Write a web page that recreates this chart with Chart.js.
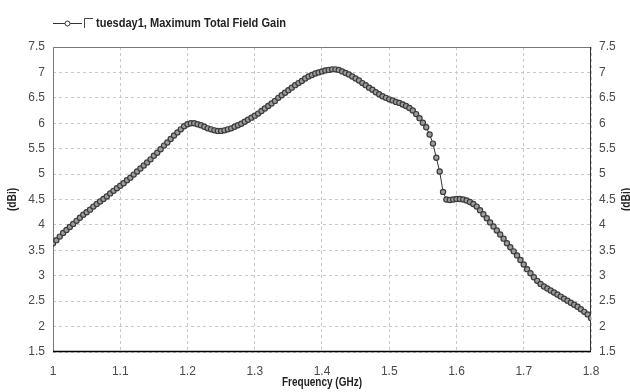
<!DOCTYPE html>
<html>
<head>
<meta charset="utf-8">
<script src="https://cdn.jsdelivr.net/npm/chart.js@4.4.1/dist/chart.umd.min.js"></script>
<style>
  html, body { margin: 0; padding: 0; background: #fff; }
  #wrap { width: 630px; height: 392px; }
</style>
</head>
<body>
<div id="wrap"><canvas id="chart" width="630" height="392"></canvas></div>
<script>
const seriesName = 'tuesday1, Maximum Total Field Gain';
const xTitle = 'Frequency (GHz)';
const yTitle = '(dBi)';

const freqs = [
  1.000, 1.005, 1.010, 1.015, 1.020, 1.025, 1.030, 1.035, 1.040, 1.045,
  1.050, 1.055, 1.060, 1.065, 1.070, 1.075, 1.080, 1.085, 1.090, 1.095,
  1.100, 1.105, 1.110, 1.115, 1.120, 1.125, 1.130, 1.135, 1.140, 1.145,
  1.150, 1.155, 1.160, 1.165, 1.170, 1.175, 1.180, 1.185, 1.190, 1.195,
  1.200, 1.205, 1.210, 1.215, 1.220, 1.225, 1.230, 1.235, 1.240, 1.245,
  1.250, 1.255, 1.260, 1.265, 1.270, 1.275, 1.280, 1.285, 1.290, 1.295,
  1.300, 1.305, 1.310, 1.315, 1.320, 1.325, 1.330, 1.335, 1.340, 1.345,
  1.350, 1.355, 1.360, 1.365, 1.370, 1.375, 1.380, 1.385, 1.390, 1.395,
  1.400, 1.405, 1.410, 1.415, 1.420, 1.425, 1.430, 1.435, 1.440, 1.445,
  1.450, 1.455, 1.460, 1.465, 1.470, 1.475, 1.480, 1.485, 1.490, 1.495,
  1.500, 1.505, 1.510, 1.515, 1.520, 1.525, 1.530, 1.535, 1.540, 1.545,
  1.550, 1.555, 1.560, 1.565, 1.570, 1.575, 1.580, 1.585, 1.590, 1.595,
  1.600, 1.605, 1.610, 1.615, 1.620, 1.625, 1.630, 1.635, 1.640, 1.645,
  1.650, 1.655, 1.660, 1.665, 1.670, 1.675, 1.680, 1.685, 1.690, 1.695,
  1.700, 1.705, 1.710, 1.715, 1.720, 1.725, 1.730, 1.735, 1.740, 1.745,
  1.750, 1.755, 1.760, 1.765, 1.770, 1.775, 1.780, 1.785, 1.790, 1.795,
  1.800
];

const gain = [
  3.64, 3.70, 3.77, 3.84, 3.90, 3.96, 4.02, 4.08, 4.14, 4.20,
  4.25, 4.30, 4.36, 4.41, 4.46, 4.51, 4.56, 4.62, 4.67, 4.72,
  4.77, 4.82, 4.88, 4.93, 4.99, 5.05, 5.11, 5.17, 5.23, 5.29,
  5.36, 5.42, 5.49, 5.56, 5.62, 5.69, 5.76, 5.82, 5.88, 5.94,
  5.98, 6.00, 6.00, 5.98, 5.96, 5.93, 5.90, 5.88, 5.86, 5.85,
  5.85, 5.86, 5.88, 5.90, 5.93, 5.96, 5.99, 6.03, 6.07, 6.11,
  6.15, 6.19, 6.24, 6.29, 6.34, 6.39, 6.44, 6.50, 6.55, 6.60,
  6.65, 6.70, 6.75, 6.79, 6.83, 6.88, 6.92, 6.95, 6.98, 7.00,
  7.02, 7.04, 7.05, 7.06, 7.06, 7.05, 7.02, 6.99, 6.96, 6.92,
  6.88, 6.84, 6.79, 6.75, 6.70, 6.66, 6.61, 6.57, 6.53, 6.50,
  6.47, 6.45, 6.42, 6.40, 6.37, 6.34, 6.30, 6.25, 6.18, 6.10,
  6.01, 5.92, 5.78, 5.60, 5.32, 5.05, 4.65, 4.50, 4.49, 4.50,
  4.51, 4.51, 4.50, 4.48, 4.45, 4.41, 4.36, 4.29, 4.21, 4.13,
  4.05, 3.97, 3.89, 3.81, 3.73, 3.64, 3.56, 3.48, 3.40, 3.31,
  3.22, 3.13, 3.05, 2.97, 2.90, 2.84, 2.79, 2.75, 2.71, 2.67,
  2.63, 2.59, 2.55, 2.51, 2.47, 2.43, 2.39, 2.34, 2.29, 2.24,
  2.17
];

const xTicks = [1, 1.1, 1.2, 1.3, 1.4, 1.5, 1.6, 1.7, 1.8];
const yTicks = [1.5, 2, 2.5, 3, 3.5, 4, 4.5, 5, 5.5, 6, 6.5, 7, 7.5];

const sans = "'Liberation Sans', Arial, sans-serif";
const fmt = v => String(Math.round(v * 10) / 10);

// narrow bold text: the original uses a condensed face, squeeze it a bit
function narrowText(ctx, text, x, y, size, squeeze, angle) {
  ctx.save();
  ctx.translate(x, y);
  if (angle) ctx.rotate(angle);
  ctx.scale(squeeze, 1);
  ctx.font = 'bold ' + size + 'px ' + sans;
  ctx.fillText(text, 0, 0);
  ctx.restore();
}

const framePlugin = {
  id: 'frame',
  beforeDatasetsDraw(chart) {
    const { ctx, chartArea: a } = chart;
    ctx.save();
    ctx.lineWidth = 1;
    ctx.strokeStyle = '#777';
    ctx.beginPath();
    ctx.moveTo(a.left + 0.5, a.bottom);
    ctx.lineTo(a.left + 0.5, a.top + 0.5);
    ctx.lineTo(a.right, a.top + 0.5);
    ctx.stroke();
    ctx.strokeStyle = '#333';
    ctx.beginPath();
    ctx.moveTo(a.right - 0.5, a.top);
    ctx.lineTo(a.right - 0.5, a.bottom);
    ctx.stroke();
    ctx.strokeStyle = '#000';
    ctx.lineWidth = 1.5;
    ctx.beginPath();
    ctx.moveTo(a.left, a.bottom - 0.5);
    ctx.lineTo(a.right, a.bottom - 0.5);
    ctx.stroke();
    ctx.restore();
  },
  afterDraw(chart) {
    const { ctx, chartArea: a } = chart;
    const y = 23.5;
    ctx.save();
    // legend
    ctx.strokeStyle = '#333';
    ctx.lineWidth = 1;
    ctx.beginPath();
    ctx.moveTo(53, y);
    ctx.lineTo(82, y);
    ctx.stroke();
    ctx.fillStyle = '#fff';
    ctx.beginPath();
    ctx.arc(67.5, y, 2.5, 0, Math.PI * 2);
    ctx.fill();
    ctx.stroke();
    ctx.strokeStyle = '#444';
    ctx.beginPath();
    ctx.moveTo(84.5, 28);
    ctx.lineTo(84.5, 18.5);
    ctx.lineTo(93, 18.5);
    ctx.stroke();
    ctx.fillStyle = '#222';
    ctx.textBaseline = 'middle';
    ctx.textAlign = 'left';
    narrowText(ctx, seriesName, 96, y, 12, 0.92, 0);
    // axis titles
    ctx.textAlign = 'center';
    const midY = (a.top + a.bottom) / 2;
    narrowText(ctx, xTitle, (a.left + a.right) / 2, 383, 12.5, 0.8, 0);
    narrowText(ctx, yTitle, 13, midY, 12, 0.85, -Math.PI / 2);
    narrowText(ctx, yTitle, 627, midY, 12, 0.85, -Math.PI / 2);
    ctx.restore();
  }
};

const yScale = (position, width, showGrid) => ({
  type: 'linear',
  position: position,
  min: 1.5,
  max: 7.5,
  afterBuildTicks: s => { s.ticks = yTicks.map(v => ({ value: v })); },
  afterFit: s => { s.width = width; },
  grid: { display: showGrid, color: '#c8c8c8', drawTicks: false },
  border: { display: false, dash: [3, 3] },
  ticks: {
    padding: 8,
    color: '#4a4a4a',
    font: { family: sans, size: 12 },
    callback: fmt
  }
});

new Chart(document.getElementById('chart'), {
  type: 'line',
  data: {
    datasets: [{
      label: seriesName,
      data: freqs.map((f, i) => ({ x: f, y: gain[i] })),
      borderColor: '#333',
      borderWidth: 1,
      pointStyle: 'circle',
      pointRadius: 2.6,
      pointBorderWidth: 1.2,
      pointBorderColor: '#3c3c3c',
      pointBackgroundColor: '#9c9c9c',
      tension: 0,
      yAxisID: 'y'
    }]
  },
  options: {
    responsive: false,
    animation: false,
    layout: { padding: { top: 47, left: 0, right: 0, bottom: 0 } },
    plugins: { legend: { display: false }, tooltip: { enabled: false } },
    scales: {
      x: {
        type: 'linear',
        position: 'bottom',
        min: 1,
        max: 1.8,
        afterBuildTicks: s => { s.ticks = xTicks.map(v => ({ value: v })); },
        afterFit: s => { s.height = 40; },
        grid: { color: '#c8c8c8', drawTicks: false },
        border: { display: false, dash: [3, 3] },
        ticks: {
          padding: 12,
          color: '#4a4a4a',
          maxRotation: 0,
          font: { family: sans, size: 12 },
          callback: fmt
        }
      },
      y: yScale('left', 53, true),
      y2: yScale('right', 39, false)
    }
  },
  plugins: [framePlugin]
});
</script>
</body>
</html>
